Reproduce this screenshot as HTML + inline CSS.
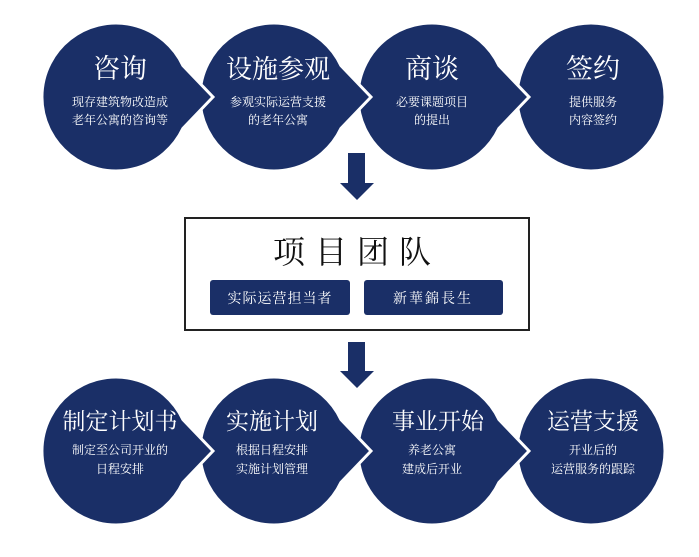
<!DOCTYPE html>
<html><head><meta charset="utf-8"><style>
html,body{margin:0;padding:0;background:#fff;}
svg{display:block;}
text{font-family:"Liberation Serif","Noto Serif CJK SC",serif;fill:#fff;text-anchor:middle;}
</style></head><body>
<svg width="699" height="557" viewBox="0 0 699 557" xmlns="http://www.w3.org/2000/svg">
<defs>
<path id="bub" d="M97,0 L67,31.3 A74,74 0 1 1 67,-31.3 Z"/>
</defs>
<g fill="#1a2f67" stroke="#fff" stroke-width="3" stroke-linejoin="miter">
<circle cx="591" cy="97" r="74"/>
<use href="#bub" x="432" y="97"/>
<use href="#bub" x="274" y="97"/>
<use href="#bub" x="116" y="97"/>
<circle cx="591" cy="451" r="74"/>
<use href="#bub" x="432" y="451"/>
<use href="#bub" x="274" y="451"/>
<use href="#bub" x="116" y="451"/>
</g>
<!-- top text -->
<text x="120" y="78" font-size="27">咨询</text>
<text x="120" y="106" font-size="12">现存建筑物改造成</text>
<text x="120" y="124" font-size="12">老年公寓的咨询等</text>
<text x="278" y="78" font-size="26">设施参观</text>
<text x="278" y="106" font-size="12">参观实际运营支援</text>
<text x="278" y="124" font-size="12">的老年公寓</text>
<text x="432" y="78" font-size="27">商谈</text>
<text x="432" y="106" font-size="12">必要课题项目</text>
<text x="432" y="124" font-size="12">的提出</text>
<text x="593" y="78" font-size="27">签约</text>
<text x="593" y="106" font-size="12">提供服务</text>
<text x="593" y="124" font-size="12">内容签约</text>
<!-- bottom text -->
<text x="120" y="429" font-size="23">制定计划书</text>
<text x="120" y="454" font-size="12">制定至公司开业的</text>
<text x="120" y="473" font-size="12">日程安排</text>
<text x="272" y="429" font-size="23">实施计划</text>
<text x="272" y="454" font-size="12">根据日程安排</text>
<text x="272" y="473" font-size="12">实施计划管理</text>
<text x="438" y="429" font-size="23">事业开始</text>
<text x="432" y="454" font-size="12">养老公寓</text>
<text x="432" y="473" font-size="12">建成后开业</text>
<text x="593" y="429" font-size="23">运营支援</text>
<text x="593" y="454" font-size="12">开业后的</text>
<text x="593" y="473" font-size="12">运营服务的跟踪</text>
<!-- arrows -->
<g fill="#1a2f67">
<polygon points="348,153 365,153 365,183 374,183 357,200 340,183 348,183"/>
<polygon points="348,342 365,342 365,371 374,371 357,388 340,371 348,371"/>
</g>
<!-- team box -->
<rect x="185" y="218" width="344" height="112" fill="#fff" stroke="#222" stroke-width="2"/>
<text x="357" y="263" font-size="32" style="fill:#111;letter-spacing:10px">项目团队</text>
<rect x="210" y="280" width="140" height="35" rx="3" fill="#1a2f67"/>
<rect x="364" y="280" width="139" height="35" rx="3" fill="#1a2f67"/>
<text x="280" y="303" font-size="14" style="letter-spacing:1px">实际运营担当者</text>
<text x="433" y="303" font-size="14" style="letter-spacing:2px">新華錦長生</text>
</svg>
</body></html>
